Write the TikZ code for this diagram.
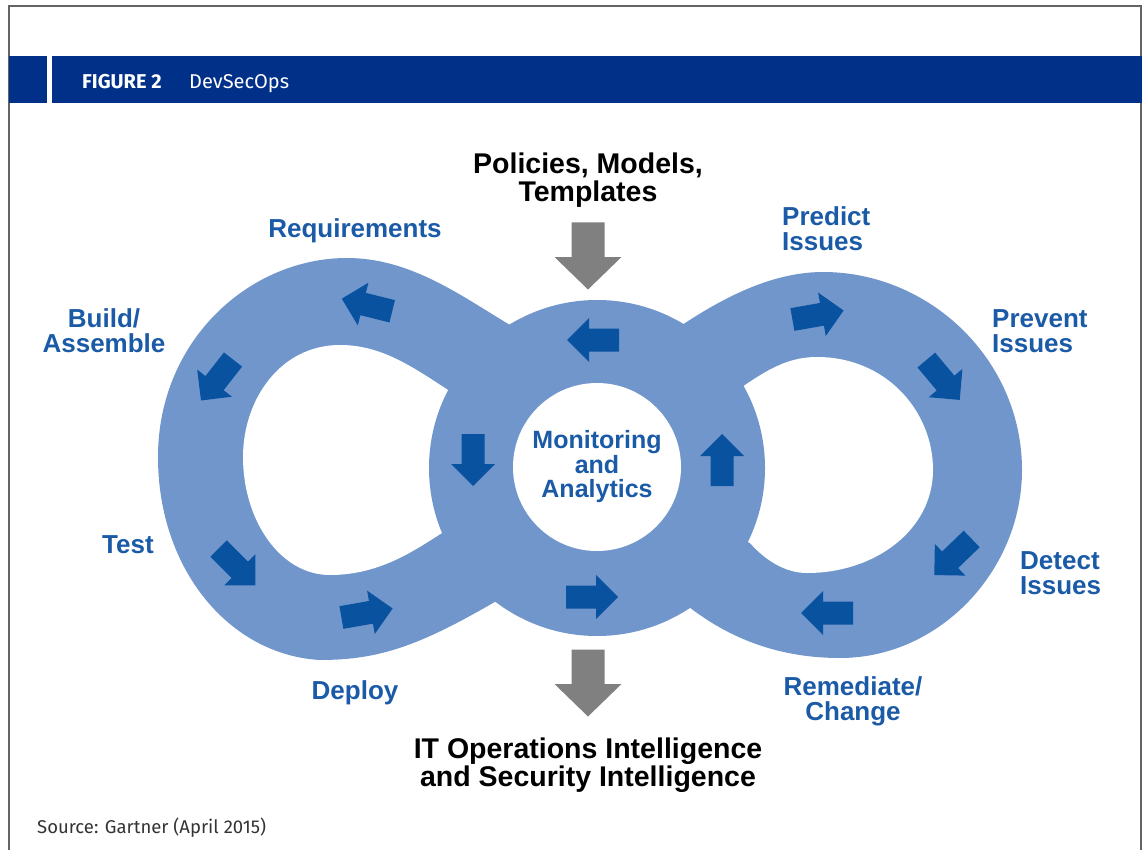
\documentclass[tikz,border=0pt]{standalone}
\usepackage{fontspec}
\setmainfont{Liberation Sans}
\newfontfamily\firafont{Fira Sans}
\usepackage{tikz}
\usetikzlibrary{shapes, calc}
\definecolor{band}{RGB}{112,150,204}
\definecolor{flowblue}{RGB}{8,82,160}
\definecolor{labelblue}{RGB}{26,90,166}
\definecolor{headnavy}{RGB}{0,48,135}
\definecolor{feedgray}{RGB}{128,128,128}
\definecolor{framegray}{RGB}{100,100,100}
\tikzstyle{stage} = [text=labelblue, font=\fontsize{26}{25}\selectfont\bfseries,
    align=center, inner sep=0pt]
\tikzstyle{io} = [text=black, font=\fontsize{28.5}{27.5}\selectfont\bfseries,
    align=center, inner sep=0pt]
\tikzstyle{header} = [text=white, anchor=base west, inner sep=0pt]
\tikzset{
  flow/.pic = {\fill[flowblue] (-26pt,-11.5pt) -- (4pt,-11.5pt) -- (4pt,-22pt)
      -- (26pt,0pt) -- (4pt,22pt) -- (4pt,11.5pt) -- (-26pt,11.5pt) -- cycle;},
  feed/.pic = {\fill[feedgray] (-33.5pt,-16.5pt) -- (1pt,-16.5pt) -- (1pt,-33.5pt)
      -- (33.5pt,0pt) -- (1pt,33.5pt) -- (1pt,16.5pt) -- (-33.5pt,16.5pt) -- cycle;}
}

\begin{document}
\begin{tikzpicture}[x=1pt, y=-1pt]
    \useasboundingbox (0,0) rectangle (1142,850);
    % Frame and header
    \draw[framegray, line width=1.5pt] (9,850) -- (9,6) -- (1141,6) -- (1141,850);
    \fill[headnavy] (9,56) rectangle (47,103);
    \fill[headnavy] (52,56) rectangle (1142,103);
    \node[header, font=\firafont\fontsize{20}{20}\selectfont\bfseries] (fignum) at (82,89) {FIGURE 2};
    \node[header, font=\firafont\fontsize{20}{20}\selectfont] (figtitle) at (189,89) {DevSecOps};

    % Loops
    \fill[band] (493,603) .. controls (420,645) and (380,660) .. (320,660)
        .. controls (230,655) and (158,570) .. (158,457)
        .. controls (158,340) and (250,258) .. (347,258)
        .. controls (410,258) and (460,295) .. (510,325)
        -- (600,400) -- (600,540) -- cycle;
    \fill[band] (693,610) .. controls (740,645) and (790,658) .. (840,658)
        .. controls (940,658) and (1022,570) .. (1022,470)
        .. controls (1022,360) and (930,272) .. (823,272)
        .. controls (770,272) and (720,300) .. (682,325)
        -- (600,400) -- (600,540) -- cycle;
    \fill[white] (448,390) .. controls (410,365) and (380,345) .. (340,345)
        .. controls (280,345) and (243,400) .. (243,457)
        .. controls (243,520) and (280,575) .. (330,575)
        .. controls (380,575) and (415,550) .. (442,533)
        -- (520,500) -- (520,430) -- cycle;
    \fill[white] (745,385) .. controls (770,368) and (790,357) .. (817,357)
        .. controls (885,357) and (933,410) .. (933,470)
        .. controls (933,530) and (875,573) .. (807,573)
        .. controls (785,573) and (765,560) .. (750,543)
        -- (680,510) -- (680,430) -- cycle;
    \node[circle, fill=band, minimum size=336pt, inner sep=0pt] (ring) at (597,468) {};
    \node[circle, fill=white, minimum size=168pt, stage,
          font=\fontsize{25}{24.5}\selectfont\bfseries] (core) at (597,467)
          {Monitoring\\and\\Analytics};

    % Flow arrows
    \pic[rotate=166] at (367,305) {flow};
    \pic[rotate=232] at (217,380) {flow};
    \pic[rotate=315] at (237,567) {flow};
    \pic[rotate=10] at (367,613) {flow};
    \pic[rotate=180] at (593,340) {flow};
    \pic[rotate=270] at (473,460) {flow};
    \pic[rotate=0] at (592,597) {flow};
    \pic[rotate=90] at (722,460) {flow};
    \pic[rotate=10] at (818,315) {flow};
    \pic[rotate=310] at (943,380) {flow};
    \pic[rotate=224] at (953,557) {flow};
    \pic[rotate=180] at (827,613) {flow};

    % Inputs and outputs
    \node[io] (policies) at (588,180) {Policies, Models,\\Templates};
    \node[io] (intel) at (588,765) {IT Operations Intelligence\\and Security Intelligence};
    \pic[rotate=270] at (588,256) {feed};
    \pic[rotate=270] at (588,683) {feed};

    % Stages
    \node[stage] (req) at (355,231) {Requirements};
    \node[stage] (build) at (104,331) {Build/\\Assemble};
    \node[stage] (test) at (128,545) {Test};
    \node[stage] (deploy) at (355,693) {Deploy};
    \node[stage, anchor=west, align=left] (predict) at (782,229) {Predict\\Issues};
    \node[stage, anchor=west, align=left] (prevent) at (992,331) {Prevent\\Issues};
    \node[stage, anchor=west, align=left] (detect) at (1020,573) {Detect\\Issues};
    \node[stage] (remediate) at (853,701) {Remediate/\\Change};

    % Source
    \node[anchor=base west, inner sep=0pt, text=black!80,
          font=\firafont\fontsize{18.5}{18.5}\selectfont] (source) at (37,833)
          {Source: Gartner (April 2015)};
\end{tikzpicture}
\end{document}
